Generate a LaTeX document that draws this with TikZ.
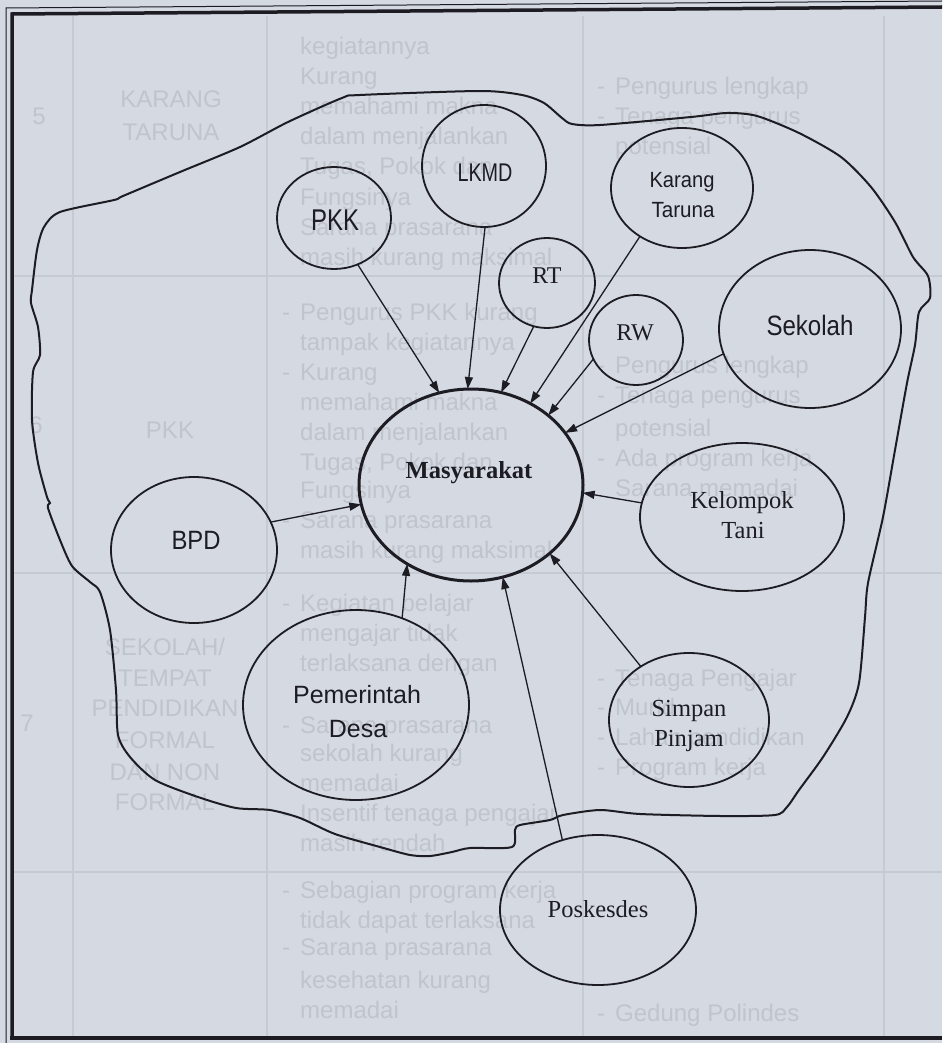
\documentclass[tikz,border=0pt]{standalone}
\usepackage{fontspec}
\usepackage{graphicx}
\setmainfont{Liberation Serif}
\newfontfamily\arialf{Liberation Sans}
\usetikzlibrary{shapes.geometric,arrows.meta}
\definecolor{paper}{RGB}{212,217,226}
\definecolor{ink}{RGB}{28,28,34}
\definecolor{faint}{RGB}{191,196,205}
\definecolor{gridc}{RGB}{197,202,211}
\newcommand\fitw[2]{\resizebox{#1}{\height}{#2}}
\newcommand\bl{\makebox[18pt][l]{-}}
\begin{document}
\begin{tikzpicture}[x=1pt,y=-1pt,
 circ/.style={ellipse, draw=ink, line width=1.8pt, inner sep=0pt, outer sep=0pt},
 sans/.style={font=\arialf\fontsize{#1}{#1}\selectfont, text=ink, inner sep=0pt, anchor=base},
 serif/.style={font=\fontsize{#1}{#1}\selectfont, text=ink, inner sep=0pt, anchor=base},
 tbl/.style={font=\arialf\fontsize{24}{24}\selectfont, text=faint, inner sep=0pt, anchor=base west},
 tblc/.style={tbl, anchor=base},
 link/.style={draw=ink, line width=1.3pt, -{Triangle[length=12pt,width=8pt]}},
]
\useasboundingbox (0,0) rectangle (942,1043);
\fill[paper] (0,0) rectangle (942,1043);

% faded table grid
\begin{scope}[draw=gridc, line width=1.5pt]
\draw (73,16) -- (73,1036);
\draw (267,16) -- (267,1036);
\draw (583,16) -- (583,1036);
\draw (884,16) -- (884,1036);
\draw (14,276) -- (942,276);
\draw (14,573) -- (942,573);
\draw (14,872) -- (942,872);
\end{scope}

% faded table text
\node[tblc] (r5a) at (39,125) {5};
\node[tblc] (r5b) at (171,108) {KARANG};
\node[tblc] (r5c) at (171,141) {TARUNA};
\node[tbl] (r5d1) at (300,55) {kegiatannya};
\node[tbl] (r5d2) at (300,85) {Kurang};
\node[tbl] (r5d3) at (300,115) {memahami makna};
\node[tbl] (r5d4) at (300,145) {dalam menjalankan};
\node[tbl] (r5d5) at (300,175) {Tugas, Pokok dan};
\node[tbl] (r5d6) at (300,205) {Fungsinya};
\node[tbl] (r5d7) at (300,235) {Sarana prasarana};
\node[tbl] (r5d8) at (300,265) {masih kurang maksimal};
\node[tbl] (r5e1) at (597,95) {\bl Pengurus lengkap};
\node[tbl] (r5e2) at (597,125) {\bl Tenaga pengurus};
\node[tbl] (r5e3) at (615,155) {potensial};

\node[tblc] (r6a) at (36,433) {6};
\node[tblc] (r6b) at (170,438) {PKK};
\node[tbl] (r6d1) at (282,320) {\bl Pengurus PKK kurang};
\node[tbl] (r6d2) at (300,350) {tampak kegiatannya};
\node[tbl] (r6d3) at (282,380) {\bl Kurang};
\node[tbl] (r6d4) at (300,410) {memahami makna};
\node[tbl] (r6d5) at (300,440) {dalam menjalankan};
\node[tbl] (r6d6) at (300,470) {Tugas, Pokok dan};
\node[tbl] (r6d7) at (300,498) {Fungsinya};
\node[tbl] (r6d8) at (282,528) {\bl Sarana prasarana};
\node[tbl] (r6d9) at (300,558) {masih kurang maksimal};
\node[tbl] (r6e1) at (597,373) {\bl Pengurus lengkap};
\node[tbl] (r6e2) at (597,403) {\bl Tenaga pengurus};
\node[tbl] (r6e3) at (615,436) {potensial};
\node[tbl] (r6e4) at (597,466) {\bl Ada program kerja};
\node[tbl] (r6e5) at (615,496) {Sarana memadai};

\node[tblc] (r7a) at (27,731) {7};
\node[tblc] (r7b1) at (165,655) {SEKOLAH/};
\node[tblc] (r7b2) at (165,686) {TEMPAT};
\node[tblc] (r7b3) at (165,716) {PENDIDIKAN};
\node[tblc] (r7b4) at (165,748) {FORMAL};
\node[tblc] (r7b5) at (165,780) {DAN NON};
\node[tblc] (r7b6) at (165,810) {FORMAL};
\node[tbl] (r7d1) at (282,611) {\bl Kegiatan belajar};
\node[tbl] (r7d2) at (300,641) {mengajar tidak};
\node[tbl] (r7d3) at (300,671) {terlaksana dengan};
\node[tbl] (r7d4) at (282,733) {\bl Sarana prasarana};
\node[tbl] (r7d5) at (300,761) {sekolah kurang};
\node[tbl] (r7d6) at (300,791) {memadai};
\node[tbl] (r7d7) at (282,821) {\bl Insentif tenaga pengajar};
\node[tbl] (r7d8) at (300,851) {masih rendah};
\node[tbl] (r7e1) at (597,686) {\bl Tenaga Pengajar};
\node[tbl] (r7e2) at (597,715) {\bl Murid};
\node[tbl] (r7e3) at (597,745) {\bl Lahan pendidikan};
\node[tbl] (r7e4) at (597,775) {\bl Program kerja};

\node[tbl] (r8d1) at (282,898) {\bl Sebagian program kerja};
\node[tbl] (r8d2) at (300,928) {tidak dapat terlaksana};
\node[tbl] (r8d3) at (282,955) {\bl Sarana prasarana};
\node[tbl] (r8d4) at (300,988) {kesehatan kurang};
\node[tbl] (r8d5) at (300,1018) {memadai};
\node[tbl] (r8e1) at (597,1021) {\bl Gedung Polindes};

% page frame
\draw[ink, line width=1pt] (6,1043) -- (6,8) -- (942,1);
\draw[ink, line width=3.5pt] (12,1038) -- (12,14) -- (942,7);
\draw[ink, line width=4pt] (10,1038) -- (942,1038);

% blob outline
\draw[ink, line width=2pt] plot[smooth cycle, tension=0.45] coordinates {
(44,227) (60,212) (114,200) (123,196) (180,172) (240,147) (288,122) (342,98)
(360,95) (480,91) (522,95) (544,103) (562,118) (572,124) (600,125) (691,117)
(727,113) (757,116) (799,133) (841,157) (871,187) (895,222) (913,257) (928,276)
(930,298) (919,312) (915,345) (907,383) (895,450) (883,517) (868,583) (865,617)
(859,683) (847,717) (823,757) (799,790) (787,807) (775,815) (721,816) (640,814)
(600,810) (563,815) (550,820) (520,825) (515,830) (512,847) (470,848) (452,852)
(430,856) (410,855) (380,847) (335,834) (300,818) (270,810) (236,808) (198,797)
(155,780) (130,757) (118,735) (116,690) (110,630) (100,592) (90,582) (72,566)
(60,540) (48,508) (50,503) (47,497) (38,463) (32,420) (33,372) (40,355)
(38,327) (31,303) (32,290) (37,250)};

% circles
\node[circ, minimum width=114pt, minimum height=102pt] (pkk) at (334,218) {};
\node[circ, minimum width=124pt, minimum height=122pt] (lkmd) at (484,166) {};
\node[circ, minimum width=142pt, minimum height=120pt] (kt) at (682,188) {};
\node[circ, minimum width=96pt, minimum height=90pt] (rt) at (547,283) {};
\node[circ, minimum width=94pt, minimum height=90pt] (rw) at (636,340) {};
\node[circ, minimum width=182pt, minimum height=158pt] (sek) at (810,329) {};
\node[circ, minimum width=224pt, minimum height=192pt, line width=3pt] (mas) at (471,485) {};
\node[circ, minimum width=166pt, minimum height=146pt] (bpd) at (194,550) {};
\node[circ, minimum width=204pt, minimum height=148pt] (kel) at (742,517) {};
\node[circ, minimum width=226pt, minimum height=190pt] (pem) at (356,705) {};
\node[circ, minimum width=160pt, minimum height=134pt] (sim) at (689,720) {};
\node[circ, minimum width=196pt, minimum height=150pt] (pos) at (598,910) {};

% labels
\node[sans=30] (tpkk) at (335,230) {\fitw{48pt}{PKK}};
\node[sans=25.6] (tlkmd) at (485,182) {\fitw{55pt}{LKMD}};
\node[sans=22] (tkt1) at (682,188) {\fitw{65pt}{Karang}};
\node[sans=22] (tkt2) at (683,217) {\fitw{63pt}{Taruna}};
\node[sans=28] (tsek) at (810,335) {\fitw{87pt}{Sekolah}};
\node[sans=26.5] (tbpd) at (196,549) {\fitw{49pt}{BPD}};
\node[sans=25] (tpem1) at (357,703) {Pemerintah};
\node[sans=25] (tpem2) at (358,737) {Desa};
\node[serif=24.5] (tmas) at (469,478) {\textbf{Masyarakat}};
\node[serif=24] (trt) at (547,283) {RT};
\node[serif=24] (trw) at (635,340) {RW};
\node[serif=24.5] (tkel1) at (742,508) {Kelompok};
\node[serif=24.5] (tkel2) at (743,538) {Tani};
\node[serif=24.5] (tsim1) at (689,716) {Simpan};
\node[serif=24.5] (tsim2) at (689,746) {Pinjam};
\node[serif=24.5] (tpos) at (598,917) {Poskesdes};

% arrows
\draw[link] (pkk.-63) -- (mas.109);
\draw[link] (lkmd.-89) -- (mas.92);
\draw[link] (rt.-107) -- (mas.72);
\draw[link] (kt.229) -- (mas.54);
\draw[link] (rw.204) -- (mas.42);
\draw[link] (sek.196) -- (mas.29);
\draw[link] (kel.172) -- (mas.-4);
\draw[link] (bpd.20) -- (mas.190);
\draw[link] (pem.62) -- (mas.231);
\draw[link] (pos.117) -- (mas.289);
\draw[link] (sim.132) -- (mas.-41);
\end{tikzpicture}
\end{document}
